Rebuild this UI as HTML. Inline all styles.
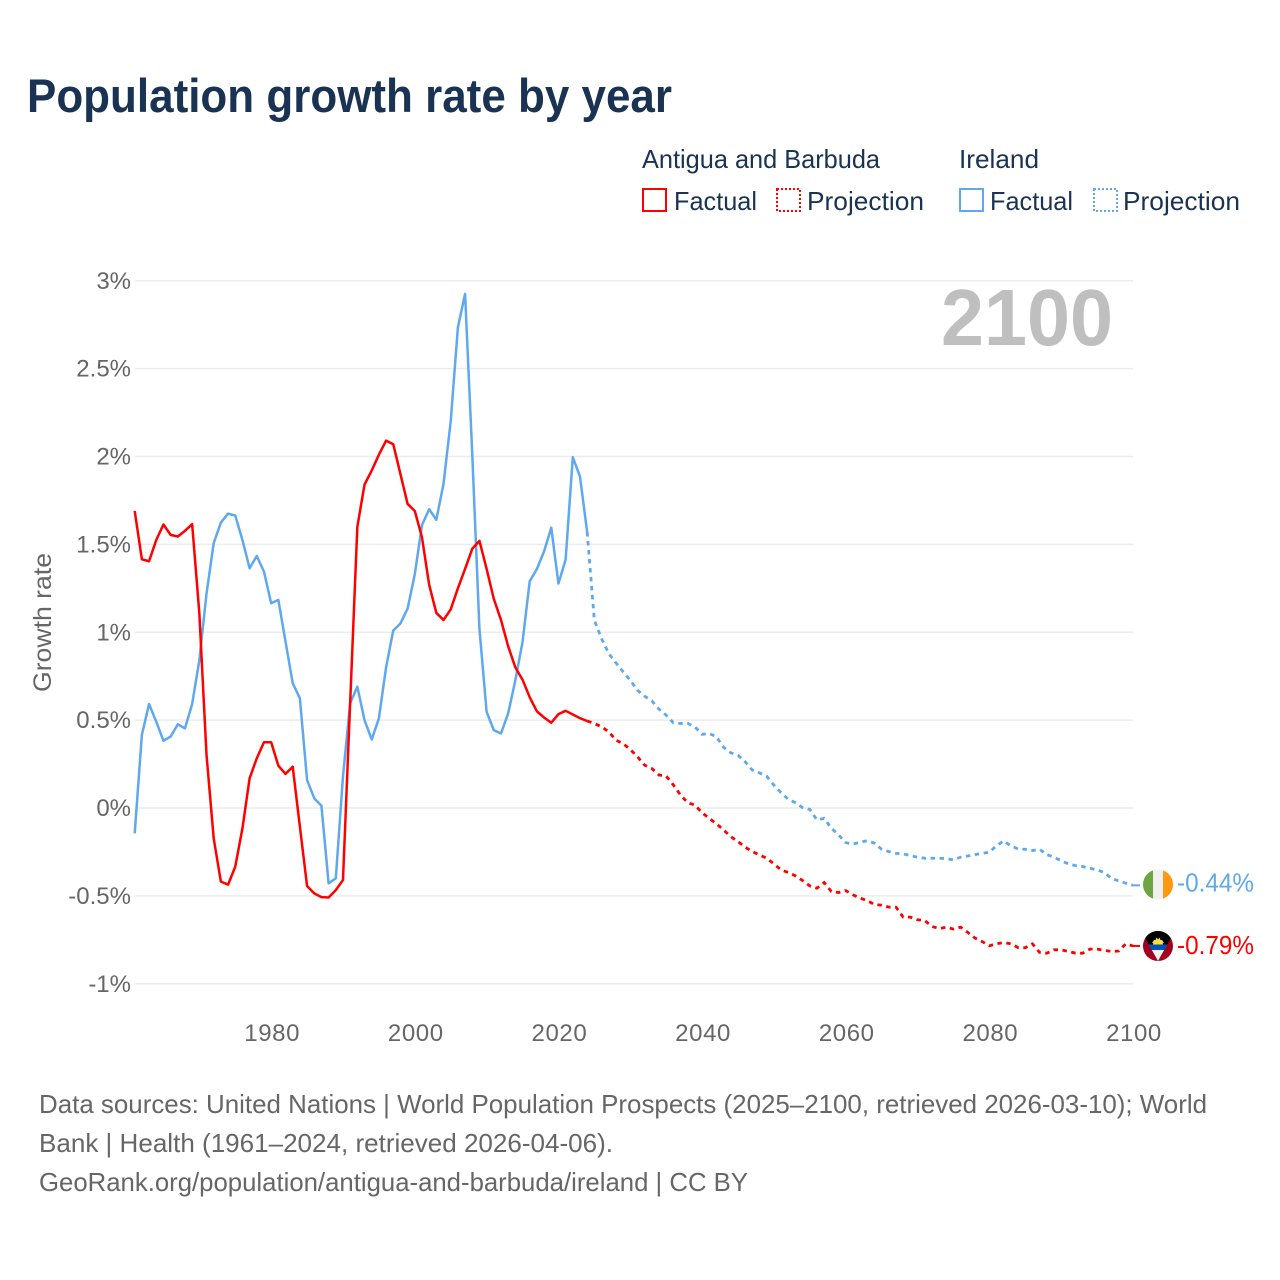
<!DOCTYPE html>
<html lang="en">
<head>
<meta charset="utf-8">
<title>Population growth rate by year</title>
<style>
html,body{margin:0;padding:0;background:#fff;width:1280px;height:1280px;overflow:hidden}
svg{display:block;font-family:"Liberation Sans",sans-serif}
.lg{font-size:26px;fill:#1a3353}
.ft{font-size:26px;fill:#666}
.yt{font-size:24px;fill:#666;text-anchor:end}
.xt{font-size:24px;fill:#666;text-anchor:middle;letter-spacing:.6px}
</style>
</head>
<body>
<svg id="chart" width="1280" height="1280" viewBox="0 0 1280 1280" xmlns="http://www.w3.org/2000/svg">
  <rect width="1280" height="1280" fill="#fff"/>
  <text x="27" y="112" font-size="47" font-weight="700" fill="#1a3353" textLength="645" lengthAdjust="spacingAndGlyphs">Population growth rate by year</text>

  <g>
    <text class="lg" x="642" y="168" textLength="238" lengthAdjust="spacingAndGlyphs">Antigua and Barbuda</text>
    <text class="lg" x="959" y="168" textLength="80" lengthAdjust="spacingAndGlyphs">Ireland</text>
    <rect x="643" y="189" width="23" height="22" fill="none" stroke="#ff0000" stroke-width="2"/>
    <text class="lg" x="674" y="210" textLength="83" lengthAdjust="spacingAndGlyphs">Factual</text>
    <rect x="777" y="189" width="23" height="22" fill="none" stroke="#ff0000" stroke-width="2" stroke-dasharray="2 2"/>
    <text class="lg" x="807" y="210" textLength="117" lengthAdjust="spacingAndGlyphs">Projection</text>
    <rect x="960" y="189" width="23" height="22" fill="none" stroke="#5fa8ee" stroke-width="2"/>
    <text class="lg" x="990" y="210" textLength="83" lengthAdjust="spacingAndGlyphs">Factual</text>
    <rect x="1094" y="189" width="23" height="22" fill="none" stroke="#5fa8ee" stroke-width="2" stroke-dasharray="2 2"/>
    <text class="lg" x="1123" y="210" textLength="117" lengthAdjust="spacingAndGlyphs">Projection</text>
  </g>

  <text transform="translate(51,622.5) rotate(-90)" font-size="25" fill="#666" text-anchor="middle" textLength="139" lengthAdjust="spacingAndGlyphs">Growth rate</text>

  <g id="grid"></g>
  <g id="yticks"></g>
  <g id="xticks"></g>

  <text x="1113" y="345" font-size="80" font-weight="700" fill="#bfbfbf" text-anchor="end" textLength="172" lengthAdjust="spacingAndGlyphs">2100</text>

  <g id="series"></g>

  <g id="flagIE">
    <clipPath id="clipIE"><circle cx="0" cy="0" r="15"/></clipPath>
    <g clip-path="url(#clipIE)">
      <rect x="-15" y="-15" width="30" height="30" fill="#f0f0f0"/>
      <rect x="-15" y="-15" width="10" height="30" fill="#6da544"/>
      <rect x="5" y="-15" width="10" height="30" fill="#ff9811"/>
    </g>
  </g>
  <g id="flagAG">
    <clipPath id="clipAG"><circle cx="0" cy="0" r="15"/></clipPath>
    <g clip-path="url(#clipAG)">
      <rect x="-15" y="-15" width="30" height="30" fill="#a2001d"/>
      <polygon points="-13,-15 13,-15 13,-8 0,15 -13,-8" fill="#000"/>
      <polygon points="-9,-1 9,-1 0,15" fill="#f0f0f0"/>
      <polygon points="-9.5,-1.5 9.5,-1.5 6.5,4 -6.5,4" fill="#0052b4"/>
      <path d="M-5,-1.5 A5,5 0 0 1 5,-1.5 Z" fill="#ffda44"/>
      <polygon points="-6,-3 -4,-6 -2.5,-6 -1.5,-8.5 0,-6.5 1.5,-8.5 2.5,-6 4,-6 6,-3" fill="#ffda44"/>
    </g>
  </g>

  <text id="labelIE" x="1177" font-size="26" fill="#5fa8ee" textLength="77" lengthAdjust="spacingAndGlyphs"></text>
  <text id="labelAG" x="1177" font-size="26" fill="#ff0000" textLength="77" lengthAdjust="spacingAndGlyphs"></text>

  <g>
    <text class="ft" x="39" y="1113" textLength="1168" lengthAdjust="spacingAndGlyphs">Data sources: United Nations | World Population Prospects (2025–2100, retrieved 2026-03-10); World</text>
    <text class="ft" x="39" y="1152" textLength="574" lengthAdjust="spacingAndGlyphs">Bank | Health (1961–2024, retrieved 2026-04-06).</text>
    <text class="ft" x="39" y="1191" textLength="709" lengthAdjust="spacingAndGlyphs">GeoRank.org/population/antigua-and-barbuda/ireland | CC BY</text>
  </g>
</svg>
<script>
const firstYear = 1961;
const projectionStartYear = 2025;
const yTickValues = [3, 2.5, 2, 1.5, 1, 0.5, 0, -0.5, -1];
const yTickLabels = ['3%', '2.5%', '2%', '1.5%', '1%', '0.5%', '0%', '-0.5%', '-1%'];
const xTickYears = [1980, 2000, 2020, 2040, 2060, 2080, 2100];

const antiguaFactual = [
  1.69, 1.415, 1.404, 1.525, 1.613, 1.554, 1.545, 1.577, 1.615, 1.108,
  0.302, -0.173, -0.419, -0.436, -0.334, -0.116, 0.169, 0.283, 0.374, 0.374,
  0.241, 0.194, 0.235, -0.106, -0.444, -0.486, -0.507, -0.509, -0.467, -0.41,
  0.6, 1.6, 1.84, 1.92, 2.01, 2.09, 2.07, 1.9, 1.73, 1.69,
  1.54, 1.27, 1.11, 1.07, 1.13, 1.25, 1.36, 1.475, 1.52, 1.36,
  1.19, 1.07, 0.92, 0.8, 0.73, 0.63, 0.55, 0.515, 0.485, 0.534,
  0.553, 0.532, 0.511, 0.495
];
const antiguaProjection = [
  0.481, 0.462, 0.434, 0.386, 0.367, 0.333, 0.292, 0.244, 0.225, 0.1875,
  0.182, 0.131, 0.074, 0.03, 0.017, -0.027, -0.059, -0.09, -0.125, -0.163,
  -0.191, -0.223, -0.248, -0.267, -0.286, -0.318, -0.352, -0.367, -0.386, -0.413,
  -0.443, -0.456, -0.424, -0.475, -0.481, -0.47, -0.494, -0.513, -0.527, -0.549,
  -0.553, -0.564, -0.564, -0.621, -0.621, -0.636, -0.64, -0.674, -0.686, -0.678,
  -0.689, -0.678, -0.708, -0.74, -0.76, -0.784, -0.773, -0.765, -0.773, -0.794,
  -0.795, -0.773, -0.822, -0.826, -0.807, -0.807, -0.816, -0.826, -0.826, -0.803,
  -0.803, -0.81, -0.816, -0.814, -0.773, -0.785
];
const irelandFactual = [
  -0.144, 0.416, 0.592, 0.491, 0.383, 0.406, 0.476, 0.453, 0.592, 0.84,
  1.22, 1.507, 1.624, 1.675, 1.664, 1.525, 1.364, 1.434, 1.345, 1.165,
  1.184, 0.947, 0.71, 0.624, 0.159, 0.055, 0.013, -0.429, -0.4, 0.18,
  0.596, 0.69, 0.5, 0.39, 0.51, 0.8, 1.01, 1.05, 1.135, 1.33,
  1.61, 1.7, 1.64, 1.845, 2.2, 2.735, 2.925, 2.015, 1.02, 0.547,
  0.443, 0.424, 0.538, 0.727, 0.945, 1.29, 1.36, 1.46, 1.595, 1.277,
  1.413, 1.996, 1.886, 1.57
];
const irelandProjection = [
  1.068, 0.964, 0.879, 0.826, 0.775, 0.727, 0.67, 0.636, 0.61, 0.5625,
  0.528, 0.485, 0.481, 0.481, 0.462, 0.419, 0.424, 0.405, 0.345, 0.314,
  0.3, 0.263, 0.216, 0.2, 0.18, 0.13, 0.087, 0.05, 0.03, 0.002,
  -0.008, -0.068, -0.059, -0.115, -0.153, -0.197, -0.205, -0.195, -0.186, -0.2,
  -0.235, -0.248, -0.258, -0.261, -0.271, -0.28, -0.286, -0.286, -0.286, -0.288,
  -0.295, -0.28, -0.273, -0.265, -0.258, -0.252, -0.214, -0.1875, -0.216, -0.233,
  -0.235, -0.242, -0.235, -0.265, -0.28, -0.3, -0.318, -0.328, -0.333, -0.343,
  -0.352, -0.367, -0.4, -0.415, -0.428, -0.44
];
const irelandEndLabel = '-0.44%';
const antiguaEndLabel = '-0.79%';

const SVG_NS = 'http://www.w3.org/2000/svg';
const RED = '#ff0000';
const BLUE = '#5fa8ee';

function xScale(year) {
  return 134.7 + (year - 1961) * (1133 - 134.7) / (2100 - 1961);
}
function yScale(value) {
  return 808 - value * 175.75;
}
function pointsFrom(startYear, values) {
  return values.map(function (v, i) {
    return xScale(startYear + i).toFixed(2) + ',' + yScale(v).toFixed(2);
  }).join(' ');
}

const gridGroup = document.getElementById('grid');
const yTickGroup = document.getElementById('yticks');
const xTickGroup = document.getElementById('xticks');
const seriesGroup = document.getElementById('series');

yTickValues.forEach(function (v, i) {
  const line = document.createElementNS(SVG_NS, 'line');
  
  
  line.setAttribute('x1', xScale(1961));
  line.setAttribute('x2', xScale(2100));
  line.setAttribute('y1', yScale(v));
  line.setAttribute('y2', yScale(v));
  line.setAttribute('stroke', '#ececec');
  line.setAttribute('stroke-width', '1.6');
  gridGroup.appendChild(line);

  const label = document.createElementNS(SVG_NS, 'text');
  
  
  label.setAttribute('class', 'yt');
  label.setAttribute('x', 131);
  label.setAttribute('y', yScale(v) + 8);
  label.textContent = yTickLabels[i];
  yTickGroup.appendChild(label);
});

xTickYears.forEach(function (year) {
  const label = document.createElementNS(SVG_NS, 'text');
  
  
  label.setAttribute('class', 'xt');
  label.setAttribute('x', xScale(year) + 1);
  label.setAttribute('y', 1041);
  label.textContent = String(year);
  xTickGroup.appendChild(label);
});

function drawSeries(factual, projection, color, name) {
  const solid = document.createElementNS(SVG_NS, 'polyline');
  
  
  solid.setAttribute('points', pointsFrom(firstYear, factual));
  solid.setAttribute('fill', 'none');
  solid.setAttribute('stroke', color);
  solid.setAttribute('stroke-width', '2.5');
  solid.setAttribute('stroke-linejoin', 'round');
  seriesGroup.appendChild(solid);

  const joined = [factual[factual.length - 1]].concat(projection);
  const dashed = document.createElementNS(SVG_NS, 'polyline');
  
  
  dashed.setAttribute('points', pointsFrom(projectionStartYear - 1, joined));
  dashed.setAttribute('fill', 'none');
  dashed.setAttribute('stroke', color);
  dashed.setAttribute('stroke-width', '2.8');
  dashed.setAttribute('stroke-dasharray', '4.5 4.5');
  seriesGroup.appendChild(dashed);

  const endY = yScale(projection[projection.length - 1]);
  const stub = document.createElementNS(SVG_NS, 'line');
  
  
  stub.setAttribute('x1', xScale(2100) - 1);
  stub.setAttribute('x2', xScale(2100) + 7);
  stub.setAttribute('y1', endY);
  stub.setAttribute('y2', endY);
  stub.setAttribute('stroke', color);
  stub.setAttribute('stroke-width', '2');
  seriesGroup.appendChild(stub);
  return endY;
}

const irelandEndY = drawSeries(irelandFactual, irelandProjection, BLUE, 'ireland');
const antiguaEndY = drawSeries(antiguaFactual, antiguaProjection, RED, 'antigua');

document.getElementById('flagIE').setAttribute('transform', 'translate(1158,' + (irelandEndY - 0.8) + ')');
document.getElementById('flagAG').setAttribute('transform', 'translate(1158,' + antiguaEndY + ')');
const labelIE = document.getElementById('labelIE');
labelIE.setAttribute('y', irelandEndY + 6);
labelIE.textContent = irelandEndLabel;
const labelAG = document.getElementById('labelAG');
labelAG.setAttribute('y', antiguaEndY + 8);
labelAG.textContent = antiguaEndLabel;
</script>
</body>
</html>
